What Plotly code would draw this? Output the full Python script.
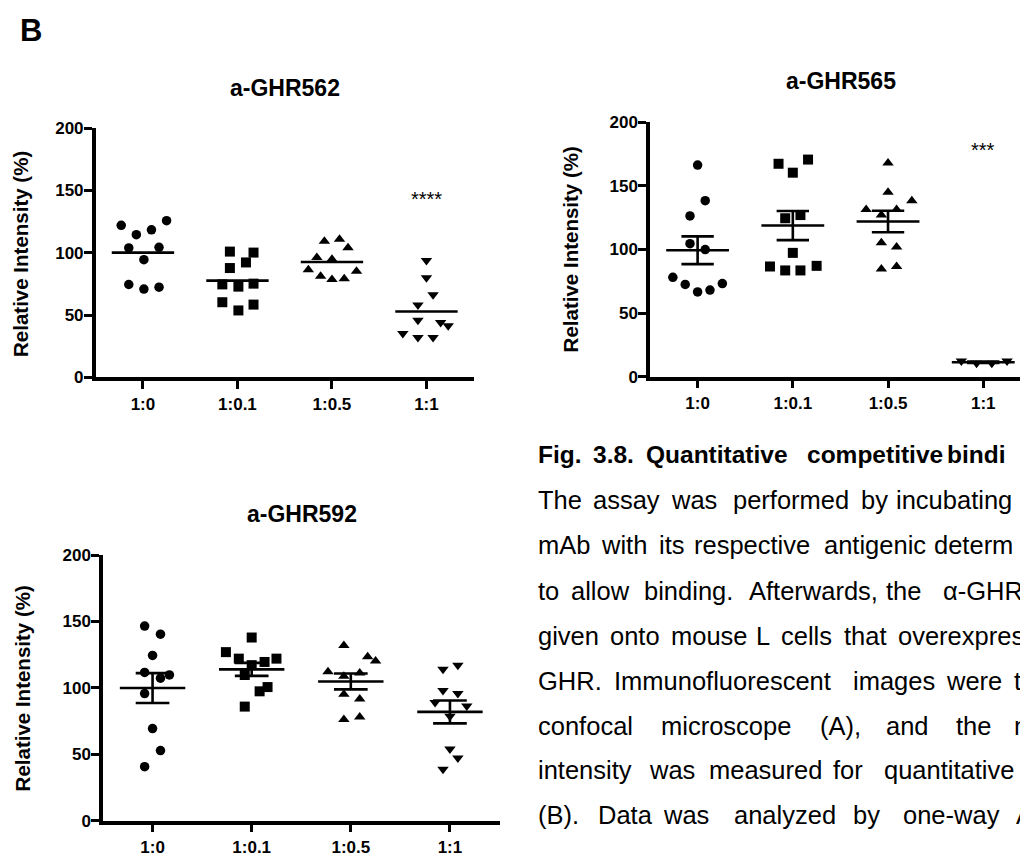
import numpy as np
import plotly.graph_objects as go

# ---------------------------------------------------------------- data
ratios = ["1:0", "1:0.1", "1:0.5", "1:1"]
y_ticks = [0, 50, 100, 150, 200]

# relative intensity (%) of each well, per mAb : peptide ratio
ghr562_1_0 = [122.0, 114.5, 118.4, 125.7, 103.8, 104.3, 94.4, 74.5, 70.8, 72.4]
ghr562_1_01 = [100.9, 100.1, 92.2, 87.7, 74.6, 72.8, 75.2, 60.3, 58.4, 53.7]
ghr562_1_05 = [109.2, 110.8, 104.0, 96.2, 94.8, 86.4, 81.2, 78.6, 79.1, 85.1]
ghr562_1_1 = [93.8, 79.9, 66.3, 58.1, 45.9, 44.0, 41.4, 35.3, 32.0, 32.0]

ghr565_1_0 = [166.3, 138.3, 126.3, 104.5, 99.9, 78.1, 72.5, 66.6, 68.1, 73.2]
ghr565_1_01 = [167.3, 170.6, 160.3, 124.5, 127.0, 97.3, 86.6, 83.5, 83.5, 87.1]
ghr565_1_05 = [168.0, 145.0, 138.3, 131.4, 131.4, 127.0, 105.3, 102.0, 84.7, 86.6]
ghr565_1_1 = [12.3, 10.5, 10.5, 12.3]

ghr592_1_0 = [146.5, 140.4, 124.4, 111.6, 107.3, 109.7, 95.7, 69.4, 52.8, 40.7]
ghr592_1_01 = [137.9, 126.9, 122.0, 117.1, 119.5, 122.0, 109.7, 97.4, 100.6, 85.9]
ghr592_1_05 = [131.8, 123.4, 120.2, 112.1, 108.7, 111.2, 95.2, 91.6, 76.1, 78.1]
ghr592_1_1 = [114.1, 117.1, 98.1, 95.7, 88.9, 86.4, 78.6, 54.0, 47.3, 38.8]

sig562 = ["", "", "", "****"]
sig565 = ["", "", "", "***"]

# ---------------------------------------------------------------- page geometry
W, H = 1020, 863
FONT = "Liberation Sans, Arial, Helvetica, sans-serif"


def px_x(v):
    return v / W


def px_y(v):
    return 1 - v / H


# horizontal scatter of the dots inside each column (category units)
spread562 = [
    [-0.23, -0.07, 0.09, 0.25, -0.15, 0.17, 0.01, -0.15, 0.01, 0.17],
    [-0.08, 0.17, 0.09, -0.08, -0.16, 0.01, 0.17, -0.16, 0.17, 0.01],
    [-0.08, 0.08, 0.17, -0.16, 0.0, -0.25, -0.12, 0.0, 0.13, 0.26],
    [0.0, 0.0, 0.07, -0.09, -0.09, 0.15, 0.23, -0.25, -0.09, 0.07],
]
spread565 = [
    [0.0, 0.08, -0.08, -0.08, 0.08, -0.26, -0.13, 0.0, 0.13, 0.26],
    [-0.15, 0.16, 0.0, -0.08, 0.08, 0.0, -0.24, -0.08, 0.08, 0.25],
    [0.0, 0.0, 0.25, -0.23, 0.09, -0.07, -0.07, 0.09, -0.07, 0.09],
    [-0.23, -0.07, 0.09, 0.25],
]
spread592 = [
    [-0.08, 0.08, 0.0, -0.08, 0.08, 0.17, -0.08, 0.0, 0.08, -0.08],
    [0.0, -0.26, -0.13, 0.0, 0.13, 0.25, -0.07, 0.08, 0.16, -0.07],
    [-0.07, 0.17, 0.25, -0.23, -0.07, 0.09, -0.07, 0.09, -0.07, 0.09],
    [-0.07, 0.08, -0.07, 0.08, -0.15, 0.17, 0.0, 0.0, 0.08, -0.07],
]

symbols = ["circle", "square", "triangle-up", "triangle-down"]
sizes = [9.5, 10, 10, 10]

panels = [
    dict(title="a-GHR562",
         groups=[ghr562_1_0, ghr562_1_01, ghr562_1_05, ghr562_1_1],
         spread=spread562, sig=sig562, sig_y=143, sem=False,
         xdom=(95.7, 473.7), xrange=(-0.5, 3.5), ydom=(121.7, 376.7),
         title_xy=(285, 80.5), ytitle_xy=(20.7, 250.8)),
    dict(title="a-GHR565",
         groups=[ghr565_1_0, ghr565_1_01, ghr565_1_05, ghr565_1_1],
         spread=spread565, sig=sig565, sig_y=178, sem=True,
         xdom=(650.0, 1020.0), xrange=(-0.5, 3.386), ydom=(115.7, 376.0),
         title_xy=(840.7, 73.5), ytitle_xy=(570, 245.8)),
    dict(title="a-GHR592",
         groups=[ghr592_1_0, ghr592_1_01, ghr592_1_05, ghr592_1_1],
         spread=spread592, sig=None, sig_y=None, sem=True,
         xdom=(103.0, 499.5), xrange=(-0.5, 3.5), ydom=(558.3, 830.0),
         title_xy=(301.7, 516), ytitle_xy=(22.7, 695)),
]

fig = go.Figure()
annotations = []
layout_axes = {}

for k, p in enumerate(panels, start=1):
    xa = "x" if k == 1 else f"x{k}"
    ya = "y" if k == 1 else f"y{k}"

    # individual wells
    for i, (vals, off) in enumerate(zip(p["groups"], p["spread"])):
        fig.add_trace(go.Scatter(
            x=[i + o for o in off], y=vals, mode="markers",
            marker=dict(symbol=symbols[i], size=sizes[i], color="black",
                        line=dict(width=0)),
            xaxis=xa, yaxis=ya, showlegend=False, cliponaxis=False,
            hoverinfo="y"))

    # mean line (and SEM whiskers)
    lx, ly = [], []
    for i, vals in enumerate(p["groups"]):
        v = np.asarray(vals, dtype=float)
        m = v.mean()
        lx += [i - 0.33, i + 0.33, None]
        ly += [m, m, None]
        if p["sem"]:
            s = v.std(ddof=1) / np.sqrt(len(v))
            lx += [i, i, None, i - 0.17, i + 0.17, None, i - 0.17, i + 0.17, None]
            ly += [m - s, m + s, None, m + s, m + s, None, m - s, m - s, None]
    fig.add_trace(go.Scatter(
        x=lx, y=ly, mode="lines", line=dict(color="black", width=2.6),
        xaxis=xa, yaxis=ya, showlegend=False, cliponaxis=False,
        hoverinfo="skip"))

    axis_common = dict(
        showline=True, linecolor="black", linewidth=3.5,
        ticks="outside", ticklen=8, tickwidth=3, tickcolor="black",
        showgrid=False, zeroline=False,
        tickfont=dict(family=FONT, size=17, color="black", weight="bold"),
    )
    layout_axes["xaxis" if k == 1 else f"xaxis{k}"] = dict(
        axis_common, domain=[px_x(p["xdom"][0]), px_x(p["xdom"][1])],
        range=list(p["xrange"]), tickvals=list(range(len(ratios))),
        ticktext=ratios, anchor=ya, fixedrange=True)
    layout_axes["yaxis" if k == 1 else f"yaxis{k}"] = dict(
        axis_common, domain=[px_y(p["ydom"][1]), px_y(p["ydom"][0])],
        range=[0, 200], tickvals=y_ticks, anchor=xa, fixedrange=True,
        ticklabelstandoff=-3)

    # panel title and y-axis title
    annotations.append(dict(
        text=f"<b>{p['title']}</b>", xref="paper", yref="paper",
        x=px_x(p["title_xy"][0]), y=px_y(p["title_xy"][1]),
        xanchor="center", yanchor="middle", showarrow=False,
        font=dict(family=FONT, size=23, color="black")))
    annotations.append(dict(
        text="<b>Relative Intensity (%)</b>", xref="paper", yref="paper",
        x=px_x(p["ytitle_xy"][0]), y=px_y(p["ytitle_xy"][1]),
        xanchor="center", yanchor="middle", textangle=-90, showarrow=False,
        font=dict(family=FONT, size=20.5, color="black")))

    # significance stars
    if p["sig"]:
        for i, s in enumerate(p["sig"]):
            if s:
                annotations.append(dict(
                    text=s, xref=xa, yref=ya, x=i, y=p["sig_y"],
                    xanchor="center", yanchor="middle", showarrow=False,
                    font=dict(family=FONT, size=20, color="black")))

# panel letter
annotations.append(dict(
    text="<b>B</b>", xref="paper", yref="paper", x=px_x(31), y=px_y(22),
    xanchor="center", yanchor="middle", showarrow=False,
    font=dict(family=FONT, size=31, color="black")))

# figure legend text, laid out word by word as a justified paragraph;
# the right-hand column runs off the page edge
caption = [
    (True, 456, [("Fig.", 537), ("3.8.", 592), ("Quantitative", 645),
                 ("competitive", 806), ("bindi", 946)]),
    (False, 502.5, [("The", 537), ("assay", 592), ("was", 670),
                    ("performed", 732), ("by", 860), ("incubating", 895)]),
    (False, 548.5, [("mAb", 537), ("with", 600), ("its", 658),
                    ("respective", 693), ("antigenic", 823),
                    ("determ", 933)]),
    (False, 595, [("to", 537), ("allow", 570), ("binding.", 643),
                  ("Afterwards,", 748), ("the", 885), ("α-GHR", 942)]),
    (False, 641.5, [("given", 537), ("onto", 609), ("mouse", 670),
                    ("L", 755), ("cells", 780), ("that", 843),
                    ("overexpres", 897)]),
    (False, 687.5, [("GHR.", 537), ("Immunofluorescent", 613),
                    ("images", 852), ("were", 945), ("t", 1013)]),
    (False, 733.5, [("confocal", 537), ("microscope", 660), ("(A),", 819),
                    ("and", 885), ("the", 955), ("m", 1013)]),
    (False, 778.5, [("intensity", 537), ("was", 648), ("measured", 708),
                    ("for", 832), ("quantitative", 883)]),
    (False, 824, [("(B).", 537), ("Data", 597), ("was", 662),
                  ("analyzed", 733), ("by", 852), ("one-way", 902),
                  ("A", 1015)]),
]
for bold, yc, words in caption:
    for w, xl in words:
        annotations.append(dict(
            text=f"<b>{w}</b>" if bold else w, xref="paper", yref="paper",
            x=px_x(xl), y=px_y(yc), xanchor="left", yanchor="middle",
            showarrow=False, borderpad=0,
            font=dict(family=FONT, size=(24.5 if bold else 25.5),
                      color="black")))

fig.update_layout(
    width=W, height=H, margin=dict(l=0, r=0, t=0, b=0),
    paper_bgcolor="white", plot_bgcolor="white",
    showlegend=False, annotations=annotations, **layout_axes)

fig.write_html("out.html")
